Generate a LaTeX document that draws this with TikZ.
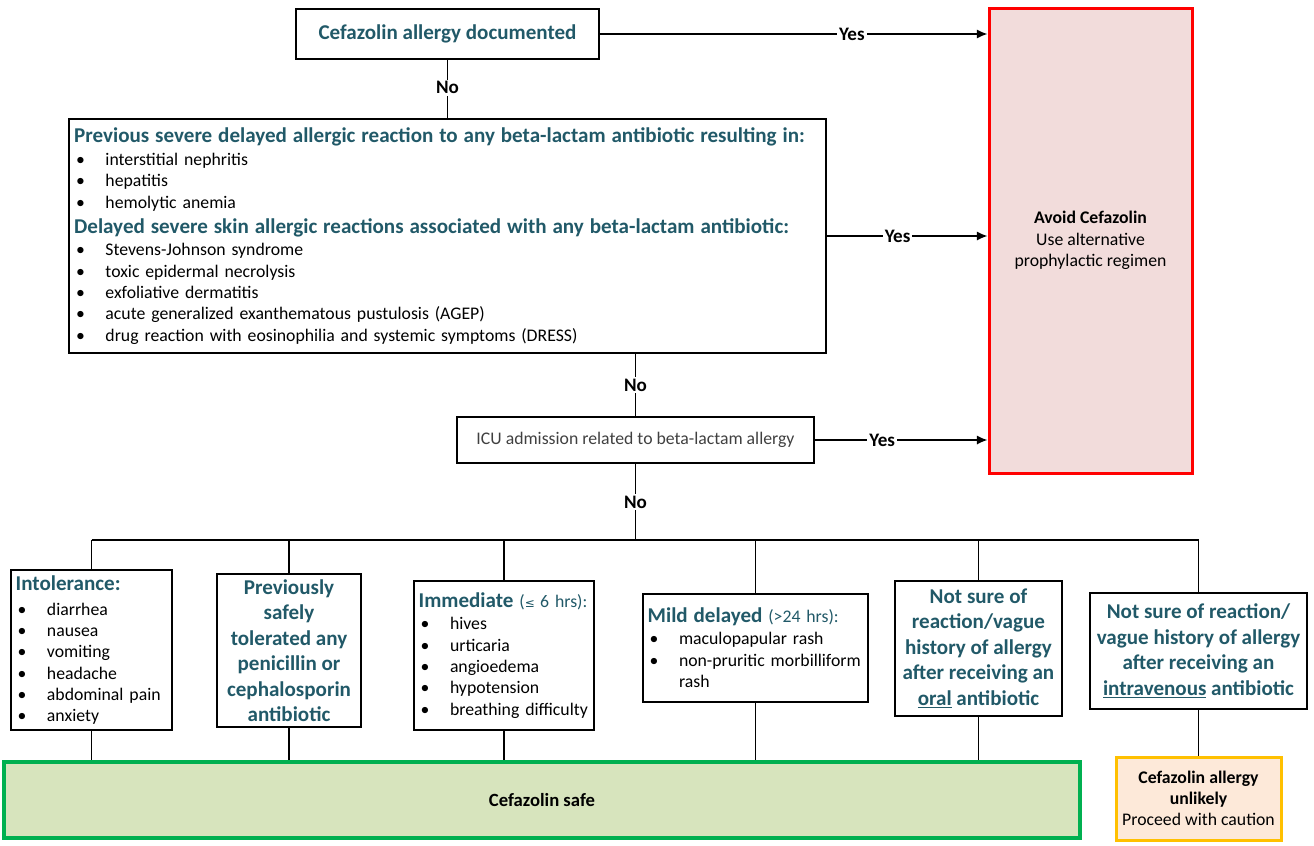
\documentclass[tikz,border=0pt]{standalone}
\usepackage{fontspec}
\setmainfont{Carlito}
\newfontfamily\symfont{DejaVu Sans}
\usepackage{tikz}
\usetikzlibrary{arrows.meta}

\definecolor{tealtext}{RGB}{33,89,104}
\definecolor{avoidfill}{RGB}{242,220,219}
\definecolor{safefill}{RGB}{215,228,189}
\definecolor{safeline}{RGB}{0,176,80}
\definecolor{cautionfill}{RGB}{253,233,217}
\definecolor{cautionline}{RGB}{255,192,0}
\definecolor{icutext}{RGB}{64,64,64}

\newcommand{\bodyfont}{\fontsize{13.3pt}{16pt}\selectfont}
\newcommand{\headfont}{\fontsize{15.8pt}{19.1pt}\selectfont\bfseries\color{tealtext}}
\newcommand{\bl}[1]{\makebox[23.5pt][l]{\hspace{1.5pt}\textbullet}#1}

\begin{document}
\begin{tikzpicture}[x=0.75pt,y=0.75pt,yscale=-1,xscale=1,
  qbox/.style={draw, line width=1.5pt, inner sep=0pt, font=\bodyfont},
  listbox/.style={qbox, align=left, inner xsep=3.5pt},
  headbox/.style={qbox, align=center, font=\headfont},
  yesno/.style={fill=white, font=\fontsize{14.3pt}{17pt}\selectfont\bfseries, inner sep=1.5pt},
  link/.style={line width=1.2pt},
  yesarrow/.style={link, -{Latex[length=8pt,width=7pt]}}]
\useasboundingbox (0,0) rectangle (1314,846);

%Shape: Rectangle [documented]
\draw (447.5,34) node (documented) [headbox, minimum width=227.25pt, minimum height=37.5pt] {Cefazolin allergy documented};

%Shape: Rectangle [avoid]
\draw (1090.5,240.5) node (avoid) [qbox, draw=red, fill=avoidfill, line width=2.25pt, minimum width=152.25pt, minimum height=348.75pt, align=center]
  {{\bfseries Avoid Cefazolin}\\Use alternative\\prophylactic regimen};

%Shape: Rectangle [severe]
\draw (447.5,236) node (severe) [listbox, minimum width=567.75pt, minimum height=175.5pt, text width=560pt]
  {{\headfont Previous severe delayed allergic reaction to any beta-lactam antibiotic resulting in:}\\[1.2pt]
   \bl{interstitial nephritis}\\
   \bl{hepatitis}\\
   \bl{hemolytic anemia}\\[2.75pt]
   {\headfont Delayed severe skin allergic reactions associated with any beta-lactam antibiotic:}\\[1.2pt]
   \bl{Stevens-Johnson syndrome}\\
   \bl{toxic epidermal necrolysis}\\
   \bl{exfoliative dermatitis}\\
   \bl{acute generalized exanthematous pustulosis (AGEP)}\\
   \bl{drug reaction with eosinophilia and systemic symptoms (DRESS)}};

%Shape: Rectangle [icu]
\draw (635.5,440) node (icu) [qbox, text=icutext, minimum width=267.75pt, minimum height=34.5pt] {ICU admission related to beta-lactam allergy};

%Shape: Rectangle [intolerance]
\draw (91.5,650) node (intolerance) [listbox, minimum width=120.75pt, minimum height=120pt, text width=113.75pt]
  {{\headfont Intolerance:}\\[2.75pt]
   \bl{diarrhea}\\
   \bl{nausea}\\
   \bl{vomiting}\\
   \bl{headache}\\
   \bl{abdominal pain}\\
   \bl{anxiety}};

%Shape: Rectangle [tolerated]
\draw (289,650.5) node (tolerated) [headbox, minimum width=108pt, minimum height=114.75pt]
  {Previously\\safely\\tolerated any\\penicillin or\\cephalosporin\\antibiotic};

%Shape: Rectangle [immediate]
\draw (504,655.5) node (immediate) [listbox, minimum width=135pt, minimum height=111.75pt, text width=128pt]
  {\mbox{{\headfont Immediate} {\color{tealtext}({\symfont\fontsize{9pt}{10pt}\selectfont ≤}\hspace{4pt}6 hrs):}}\\[0.5pt]
   \bl{hives}\\
   \bl{urticaria}\\
   \bl{angioedema}\\
   \bl{hypotension}\\
   \bl{breathing difficulty}};

%Shape: Rectangle [milddelayed]
\draw (755.5,648) node (milddelayed) [listbox, minimum width=168.75pt, minimum height=81pt, text width=161.75pt]
  {{\headfont Mild delayed} {\color{tealtext}(>24 hrs):}\\[0.5pt]
   \bl{maculopapular rash}\\
   \bl{non-pruritic morbilliform}\\
   \hspace*{23.5pt}rash};

%Shape: Rectangle [oralvague]
\draw (978.5,648.5) node (oralvague) [headbox, minimum width=125.25pt, minimum height=101.25pt]
  {Not sure of\\reaction/vague\\history of allergy\\after receiving an\\\underline{oral} antibiotic};

%Shape: Rectangle [ivvague]
\draw (1198.5,651) node (ivvague) [headbox, minimum width=162.75pt, minimum height=87pt]
  {Not sure of reaction/\\vague history of allergy\\after receiving an\\\underline{intravenous} antibiotic};

%Shape: Rectangle [safe]
\draw (542,800) node (safe) [qbox, draw=safeline, fill=safefill, line width=2.5pt, minimum width=807pt, minimum height=57pt, font=\fontsize{14pt}{17pt}\selectfont\bfseries] {Cefazolin safe};

%Shape: Rectangle [unlikely]
\draw (1198.5,798.5) node (unlikely) [qbox, draw=cautionline, fill=cautionfill, line width=2.25pt, minimum width=123.75pt, minimum height=62.25pt, align=center]
  {{\bfseries Cefazolin allergy}\\{\bfseries unlikely}\\Proceed with caution};

%Straight Lines [yes]
\draw [yesarrow] (documented.east) -- node [yesno, pos=0.65] {Yes} (documented.east -| avoid.west);
\draw [yesarrow] (severe.east) -- node [yesno, pos=0.44] {Yes} (severe.east -| avoid.west);
\draw [yesarrow] (icu.east) -- node [yesno, pos=0.39] {Yes} (icu.east -| avoid.west);

%Straight Lines [no]
\draw [link] (documented.south) -- node [yesno, pos=0.48] {No} (severe.north);
\draw [link] (severe.south -| icu.north) -- node [yesno] {No} (icu.north);
\coordinate (bus) at (635.5,540);
\draw [link] (icu.south) -- node [yesno] {No} (bus);

%Straight Lines [branches]
\draw [link] (intolerance.north |- bus) -- (ivvague.north |- bus);
\foreach \b in {intolerance,tolerated,immediate,milddelayed,oralvague,ivvague}
  \draw [link] (\b.north) -- (\b.north |- bus);
\foreach \b in {intolerance,tolerated,immediate,milddelayed,oralvague}
  \draw [link] (\b.south) -- (\b.south |- safe.north);
\draw [link] (ivvague.south) -- (unlikely.north);

\end{tikzpicture}
\end{document}
